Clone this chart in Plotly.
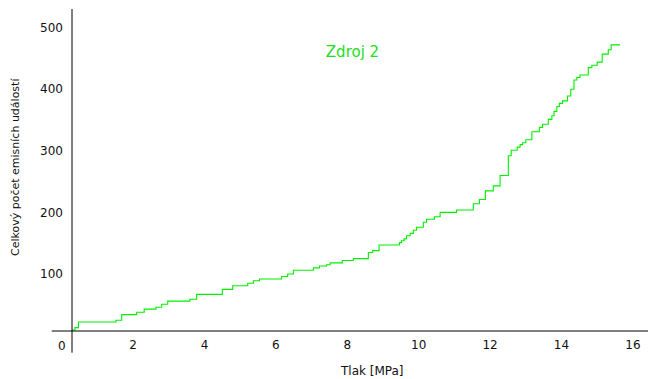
import plotly.graph_objects as go

# Step points of the cumulative curve: pressure [MPa] at which the count changes, count after the change
pressure = [0.28, 0.37, 0.47, 1.52, 1.68, 2.10, 2.31, 2.64, 2.80, 2.97, 3.59, 3.78, 4.50, 4.79,
            5.21, 5.37, 5.54, 6.16, 6.33, 6.49, 7.05, 7.22, 7.42, 7.52, 7.86, 8.17, 8.59, 8.71,
            8.89, 9.46, 9.52, 9.59, 9.66, 9.76, 9.85, 9.94, 10.13, 10.22, 10.44, 10.60, 11.06,
            11.53, 11.70, 11.87, 12.09, 12.28, 12.51, 12.59, 12.76, 12.84, 12.91, 13.00, 13.17,
            13.38, 13.47, 13.63, 13.73, 13.79, 13.87, 13.94, 14.03, 14.17, 14.26, 14.35, 14.43,
            14.52, 14.75, 14.85, 15.00, 15.14, 15.31, 15.39, 15.64]
events = [9, 13, 22, 25, 34, 38, 43, 46, 51, 56, 59, 67, 75, 81,
          85, 89, 92, 96, 100, 106, 110, 113, 115, 118, 122, 125, 135, 138,
          147, 151, 154, 157, 162, 166, 171, 176, 184, 189, 193, 200, 204,
          214, 221, 235, 243, 260, 292, 301, 306, 310, 313, 318, 331,
          338, 343, 351, 357, 364, 372, 377, 381, 389, 400, 415, 419,
          423, 435, 439, 444, 457, 464, 472, 472]

x_ticks = [2, 4, 6, 8, 10, 12, 14, 16]
y_ticks = [100, 200, 300, 400, 500]
origin_label = "0"

series_name = "Zdroj 2"
x_title = "Tlak [MPa]"
y_title = "Celkový počet emisních událostí"

GREEN = "#00f000"
FONT = "DejaVu Sans"
TXT = "#111111"

fig = go.Figure()
fig.add_trace(go.Scatter(x=pressure, y=events, mode="lines", line_shape="hv",
                         line=dict(color=GREEN, width=1.1), cliponaxis=False,
                         showlegend=False, hoverinfo="skip"))

fig.update_layout(
    width=648, height=379,
    margin=dict(l=72, r=0, t=9, b=48),
    paper_bgcolor="white", plot_bgcolor="white",
    font=dict(family=FONT, size=12, color=TXT),
    title=dict(text=series_name, x=352.5 / 648, xref="container", xanchor="center",
               y=1 - 52 / 379, yref="container", yanchor="middle",
               font=dict(family=FONT, size=15, color="#22dd22")),
    xaxis=dict(range=[0.2885, 16.423], tickvals=x_ticks, ticks="", showgrid=False,
               zeroline=False, showline=False, ticklabelstandoff=5,
               tickfont=dict(family=FONT, size=12, color=TXT)),
    yaxis=dict(range=[7.47, 530.2], tickvals=y_ticks, ticks="", showgrid=False,
               zeroline=False, showline=False, ticklabelstandoff=8,
               tickfont=dict(family=FONT, size=12, color=TXT)),
    shapes=[
        dict(type="line", xref="paper", yref="paper", x0=-0.0352, x1=1, y0=0, y1=0,
             line=dict(color="black", width=1)),
        dict(type="line", xref="paper", yref="paper", x0=0, x1=0, y0=-0.0674, y1=1,
             line=dict(color="black", width=1)),
    ],
    annotations=[
        dict(text=origin_label, x=(61.7 - 72) / 576, xref="paper", y=(331 - 345.7) / 322,
             yref="paper", showarrow=False, xanchor="center", yanchor="middle",
             font=dict(family=FONT, size=12, color=TXT)),
        dict(text=x_title, x=(372 - 72) / 576, xref="paper", y=(331 - 371) / 322, yref="paper",
             showarrow=False, xanchor="center", yanchor="middle",
             font=dict(family=FONT, size=12, color=TXT)),
        dict(text=y_title, x=(15 - 72) / 576, xref="paper", y=(331 - 167) / 322, yref="paper",
             showarrow=False, xanchor="center", yanchor="middle", textangle=-90,
             font=dict(family=FONT, size=11, color=TXT)),
    ],
)

fig.write_html("out.html", config={"displayModeBar": False},
               post_script="document.body.style.margin='0';document.body.style.padding='0';"
                           "document.body.style.overflow='hidden';")
